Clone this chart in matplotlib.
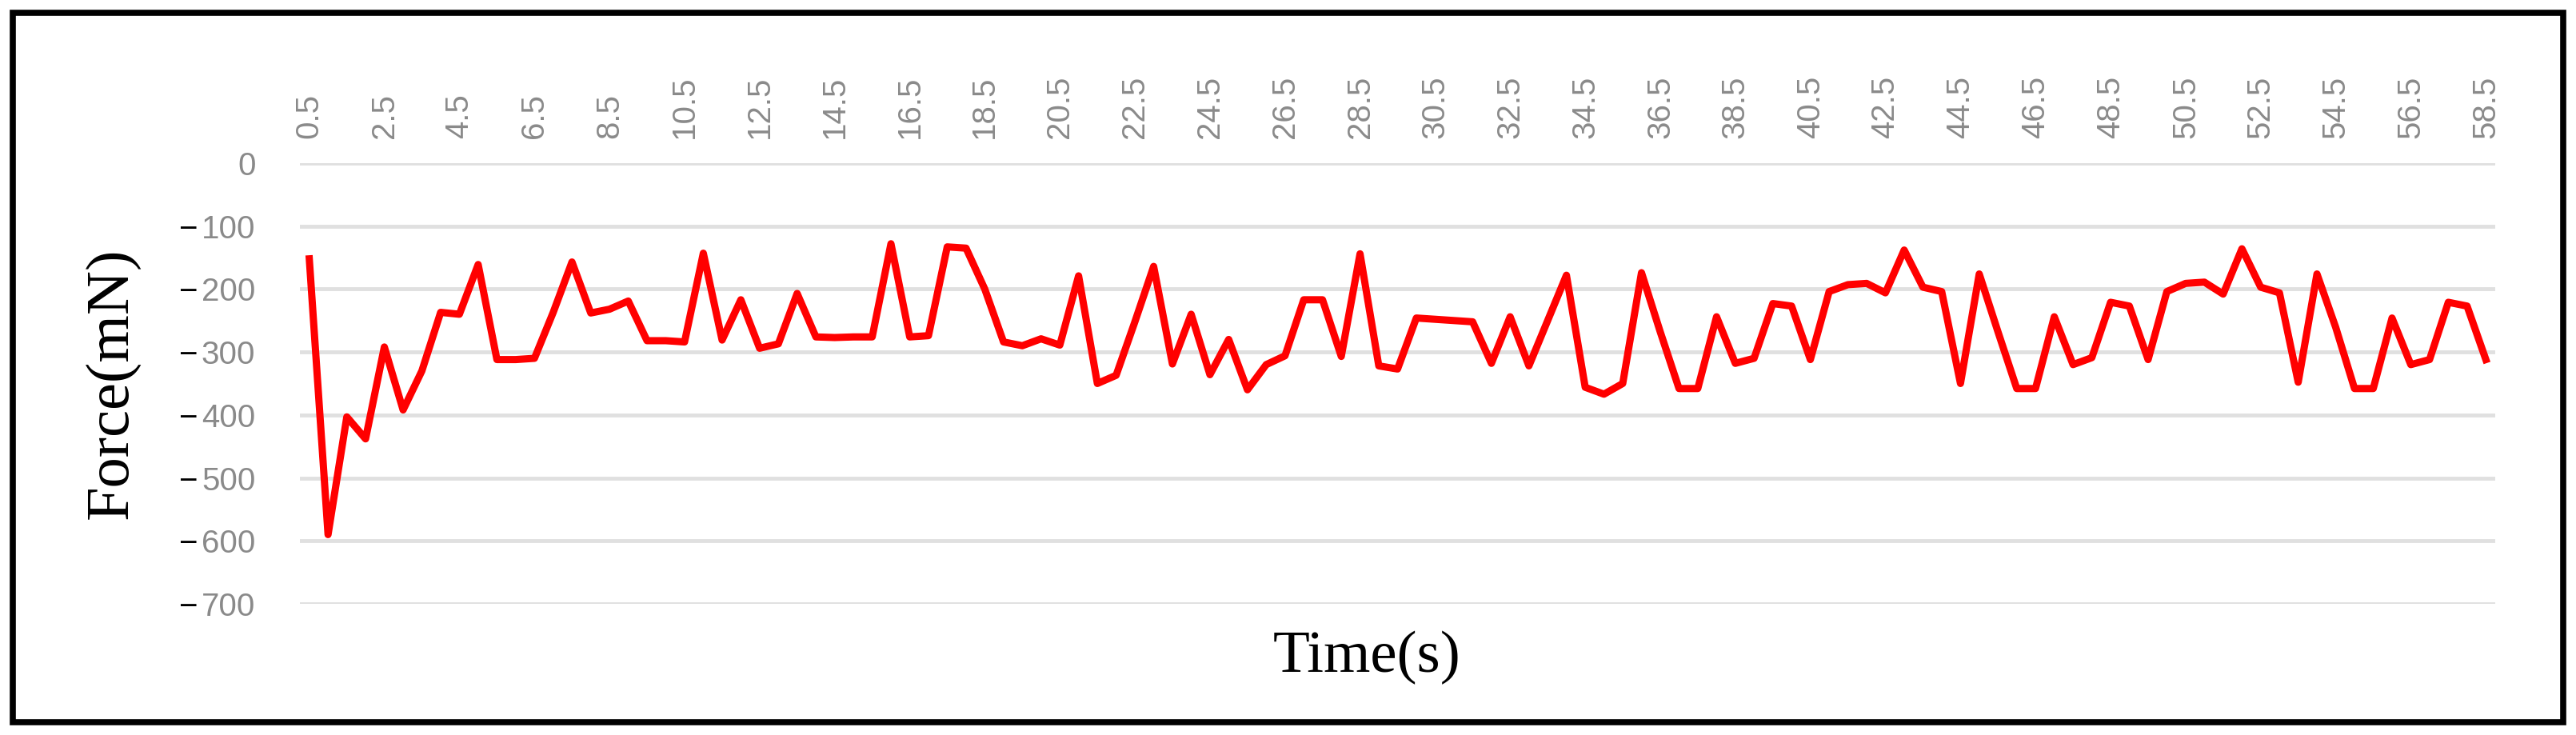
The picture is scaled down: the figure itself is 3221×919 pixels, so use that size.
import matplotlib.pyplot as plt
import numpy as np
from matplotlib.patches import Rectangle
from matplotlib.transforms import blended_transform_factory

# 时间轴(每0.5s一个点, 0.5 ~ 58.5)
time_s = np.arange(0.5, 58.75, 0.5)

# 力的读数 (mN)
force = [
    -152, -590, -403, -438, -292, -392, -330, -237, -240, -161,
    -312, -312, -310, -237, -157, -238, -232, -219, -282, -282,
    -284, -143, -281, -217, -294, -287, -207, -276, -277, -276,
    -276, -128, -276, -274, -133, -135, -200, -284, -290, -279,
    -289, -179, -350, -337, -252, -164, -319, -240, -336, -280,
    -360, -320, -306, -217, -217, -307, -144, -322, -327,
    -246, -248, -250, -252, -318, -244, -322, -250, -178, -356,
    -367, -350, -174, -268, -358, -358, -244, -318, -310, -223,
    -227, -312, -204, -193, -191, -206, -138, -197, -204, -350,
    -176, -268, -358, -358, -244, -320, -309, -221, -227, -312,
    -204, -191, -189, -208, -136, -197, -206, -348, -176, -261,
    -358, -358, -246, -320, -312, -221, -227, -312,
]

y_ticks = list(range(-700, 1, 100))
x_ticks = time_s[::4]

W, H = 3221, 919
fig = plt.figure(figsize=(W / 100, H / 100), dpi=100)
ax = fig.add_axes([375 / W, 164 / H, 2745 / W, 551 / H])

ax.plot(time_s, force, color='#ff0000', linewidth=6.5, solid_joinstyle='round', zorder=3)

ax.set_xlim(0.25, 58.75)
ax.set_ylim(-700, 0)

# 网格线
ax.set_yticks(y_ticks)
ax.yaxis.grid(True, color='#e0e0e0', linewidth=3.5)
ax.set_axisbelow(True)
for s in ax.spines.values():
    s.set_visible(False)

# y轴刻度: 数字灰色, 负号黑色
ax.set_yticklabels([str(abs(v)) for v in y_ticks], color='#8a8a8a',
                   fontsize=29, family='Liberation Sans')
ax.tick_params(axis='y', length=0, pad=40)
trans = blended_transform_factory(fig.transFigure, ax.transData)
for v in y_ticks:
    if v < 0:
        ax.text(247 / W, v, '\u2212', transform=trans, ha='right', va='center_baseline',
                fontsize=29, color='black', family='Liberation Sans')

# x轴刻度在上方, 竖排
ax.xaxis.tick_top()
ax.set_xticks(x_ticks)
ax.set_xticklabels([f'{t:g}' for t in x_ticks], rotation=90, color='#8a8a8a',
                   fontsize=29, family='Liberation Sans')
ax.tick_params(axis='x', length=0, pad=22)

# 轴标题
fig.text(1709 / W, 1 - 822 / H, 'Time(s)', ha='center', va='center',
         fontsize=54, family='Liberation Serif')
fig.text(140 / W, 1 - 479 / H, 'Force(mN)', ha='center', va='center', rotation=90,
         fontsize=55, family='Liberation Serif')

# 外框
fig.patches.append(Rectangle((16 / W, 16 / H), 1 - 32 / W, 1 - 32 / H,
                             transform=fig.transFigure, fill=False,
                             edgecolor='black', linewidth=5.5))

fig.savefig('out.png', dpi=100)
